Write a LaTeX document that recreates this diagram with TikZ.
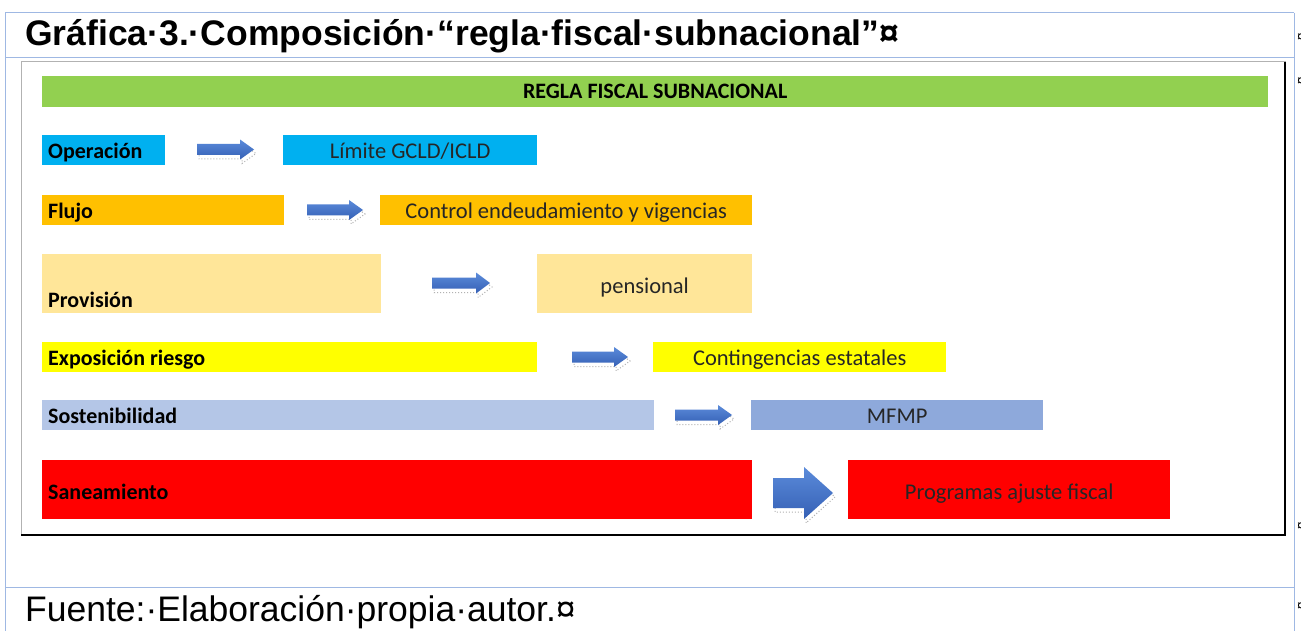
\documentclass[tikz,border=0pt]{standalone}
\usepackage{fontspec}
\setmainfont{Liberation Sans}
\newfontfamily\carl{Carlito}
\usetikzlibrary{calc}
\definecolor{cgreen}{HTML}{92D050}
\definecolor{ccyan}{HTML}{00B0F0}
\definecolor{corange}{HTML}{FFC000}
\definecolor{clorange}{HTML}{FFE699}
\definecolor{cyellow}{HTML}{FFFF00}
\definecolor{clblue}{HTML}{B4C6E7}
\definecolor{cmblue}{HTML}{8EA9DB}
\definecolor{cred}{HTML}{FF0000}
\definecolor{tblline}{HTML}{9FB8E3}
\definecolor{arrtop}{HTML}{5B8BDA}
\definecolor{arrbot}{HTML}{3560B5}
\definecolor{rtext}{HTML}{262626}
\newcommand\bx[6]{\node[fbox, fill=#6, minimum width={(#4-#2)*1pt}, minimum height={(#5-#3)*1pt}] (#1) at (#2,#3) {};}
\newcommand\blkarrow[6]{%
  \draw[arrshadow] ({#1+2},{#3-#4+4}) -- ({#2-#6+2},{#3-#4+4}) -- ({#2-#6+2},{#3-#5+4}) -- ({#2+2},{#3+4}) -- ({#2-#6+2},{#3+#5+4}) -- ({#2-#6+2},{#3+#4+4}) -- ({#1+2},{#3+#4+4}) -- cycle;
  \shade[top color=arrtop, bottom color=arrbot] ({#1},{#3-#4}) -- ({#2-#6},{#3-#4}) -- ({#2-#6},{#3-#5}) -- ({#2},{#3}) -- ({#2-#6},{#3+#5}) -- ({#2-#6},{#3+#4}) -- ({#1},{#3+#4}) -- cycle;}
\tikzset{
  fbox/.style={rectangle, inner sep=0pt, draw=none, anchor=north west},
  lbl/.style={inner sep=0pt, font=\carl\bfseries\fontsize{22}{24}\selectfont, text=black},
  rlbl/.style={inner sep=0pt, font=\carl\fontsize{22.5}{24}\selectfont, text=rtext},
  tbl/.style={draw=tblline, line width=1pt},
  arrshadow/.style={draw=gray!60, dotted, line width=1pt},
}
\begin{document}
\begin{tikzpicture}[x=1pt,y=-1pt]
\useasboundingbox (0,0) rectangle (1301,631);
\fill[white] (0,0) rectangle (1301,631);
% table lines
\draw[tbl] (5,13) -- (1294,13);
\draw[tbl] (5,58) -- (1294,58);
\draw[tbl] (5,587) -- (1294,587);
\draw[tbl] (5,13) -- (5,631);
\draw[tbl] (1294,13) -- (1294,631);
% cell marks (cut at the edge)
\foreach \yy/\nm in {38/m1,82/m2,527/m3,607/m4}
  \node[anchor=west, inner sep=0pt, font=\fontsize{14}{16}\selectfont] (\nm) at (1297,\yy) {¤};
% title and footer
\node[anchor=base west, inner sep=0pt, font=\bfseries\fontsize{35.5}{40}\selectfont] (title) at (25,46) {Gráfica·3.·Composición·“regla·fiscal·subnacional”¤};
\node[anchor=base west, inner sep=0pt, font=\fontsize{35.5}{40}\selectfont] (foot) at (25,621) {Fuente:·Elaboración·propia·autor.¤};
% frame
\draw[gray!60, line width=1pt] (21,62) rectangle (1285,535);
\draw[black, line width=2.2pt] (21,535) -- (1285,535) -- (1285,62);
% boxes
\bx{regla}{42}{76}{1268}{107}{cgreen}
\bx{op}{42}{135}{165}{165}{ccyan}
\bx{lim}{283}{135}{537}{165}{ccyan}
\bx{flu}{42}{195}{284}{225}{corange}
\bx{ctl}{380}{195}{752}{225}{corange}
\bx{prov}{42}{254}{381}{313}{clorange}
\bx{pen}{537}{254}{752}{313}{clorange}
\bx{exp}{42}{342}{537}{372}{cyellow}
\bx{con}{653}{342}{946}{372}{cyellow}
\bx{sos}{42}{400}{654}{430}{clblue}
\bx{mfmp}{751}{400}{1043}{430}{cmblue}
\bx{san}{42}{460}{752}{519}{cred}
\bx{prog}{848}{460}{1170}{519}{cred}
% texts
\node[lbl, anchor=base] (tregla) at ([yshift=-7pt]regla.center) {REGLA FISCAL SUBNACIONAL};
\node[lbl, anchor=base west] (top) at ([xshift=6pt,yshift=-8pt]op.west) {Operación};
\node[rlbl, anchor=base] (tlim) at ([yshift=-8pt]lim.center) {Límite GCLD/ICLD};
\node[lbl, anchor=base west] (tflu) at ([xshift=6pt,yshift=-8pt]flu.west) {Flujo};
\node[rlbl, anchor=base] (tctl) at ([yshift=-8pt]ctl.center) {Control endeudamiento y vigencias};
\node[lbl, anchor=base west] (tprov) at ([xshift=6pt,yshift=6pt]prov.south west) {Provisión};
\node[rlbl, anchor=base] (tpen) at ([yshift=-9.5pt]pen.center) {pensional};
\node[lbl, anchor=base west] (texp) at ([xshift=6pt,yshift=-8pt]exp.west) {Exposición riesgo};
\node[rlbl, anchor=base] (tcon) at ([yshift=-8pt]con.center) {Contingencias estatales};
\node[lbl, anchor=base west] (tsos) at ([xshift=6pt,yshift=-8pt]sos.west) {Sostenibilidad};
\node[rlbl, anchor=base] (tmfmp) at ([yshift=-8pt]mfmp.center) {MFMP};
\node[lbl, anchor=base west] (tsan) at ([xshift=6pt,yshift=-9.5pt]san.west) {Saneamiento};
\node[rlbl, anchor=base] (tprog) at ([yshift=-9.5pt]prog.center) {Programas ajuste fiscal};
% block arrows
\blkarrow{197}{254}{149.5}{5.5}{10}{14}
\blkarrow{307}{363}{210}{5.5}{10}{14}
\blkarrow{432}{490}{283}{5.5}{10.5}{14}
\blkarrow{572}{628}{357}{5.5}{10}{14}
\blkarrow{675}{732}{415}{5.5}{10}{14}
\blkarrow{773}{833}{493}{15}{26}{29}
\end{tikzpicture}
\end{document}
